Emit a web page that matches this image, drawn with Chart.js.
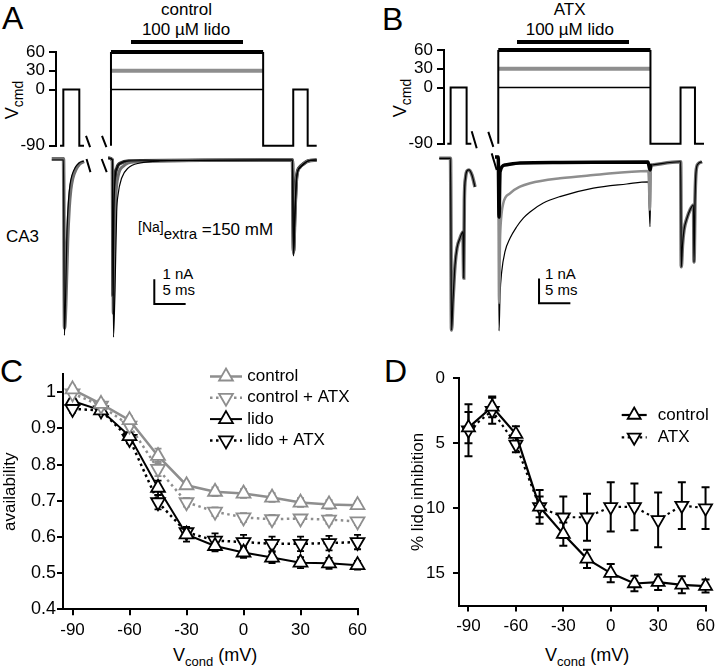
<!DOCTYPE html>
<html><head><meta charset="utf-8"><title>Lidocaine block and availability</title>
<script src="https://cdn.jsdelivr.net/npm/chart.js@4.4.1/dist/chart.umd.min.js"></script>
<style>
html,body{margin:0;padding:0;background:#fff;}
#fig{position:relative;width:720px;height:667px;overflow:hidden;background:#fff;font-family:"Liberation Sans",Arial,Helvetica,sans-serif;color:#000;}
#fig canvas{position:absolute;}
.t{position:absolute;white-space:nowrap;line-height:1;}
.c{transform:translateX(-50%);}
.bar{position:absolute;background:#000;}
.sub{font-size:13px;position:relative;top:5px;}
.rot{position:absolute;white-space:nowrap;line-height:1;font-size:18px;transform:translate(-50%,-50%) rotate(-90deg);}
.rot .sub{font-size:14px;}
</style></head><body>
<div id="fig">
  <div class="t" style="left:2px;top:2px;font-size:32px">A</div>
  <div class="t" style="left:382px;top:3px;font-size:32px">B</div>
  <div class="t" style="left:0px;top:355px;font-size:32px">C</div>
  <div class="t" style="left:384px;top:355px;font-size:32px">D</div>

  <div class="t c" style="left:186.5px;top:1px;font-size:17px">control</div>
  <div class="t c" style="left:186px;top:21px;font-size:17px">100 µM lido</div>
  <div class="bar" style="left:131px;top:40px;width:112px;height:4px"></div>
  <div class="t c" style="left:569.7px;top:1px;font-size:17px">ATX</div>
  <div class="t c" style="left:569.8px;top:21px;font-size:17px">100 µM lido</div>
  <div class="bar" style="left:517px;top:39.5px;width:111.5px;height:4px"></div>

  <div class="rot" style="left:12px;top:100px">V<span class="sub">cmd</span></div>
  <div class="rot" style="left:400px;top:98px">V<span class="sub">cmd</span></div>

  <div class="t" style="left:6px;top:228px;font-size:17px">CA3</div>
  <div class="t" style="left:138px;top:221px;font-size:17px"><span style="font-size:14px;position:relative;top:-3px">[Na]</span><span style="font-size:15px;position:relative;top:4px">extra</span> =150 mM</div>

  <div class="t" style="left:162.5px;top:266px;font-size:15px">1 nA</div>
  <div class="t" style="left:162.5px;top:281.5px;font-size:15px">5 ms</div>
  <div class="t" style="left:545px;top:266px;font-size:15px">1 nA</div>
  <div class="t" style="left:545px;top:281.5px;font-size:15px">5 ms</div>

  <div class="t" style="left:173px;top:645.7px;font-size:18px">V<span class="sub">cond</span> (mV)</div>
  <div class="t" style="left:545px;top:645.7px;font-size:18px">V<span class="sub">cond</span> (mV)</div>
</div>
<script>
// ======================= DATA =======================
// Panels C and D: conditioning voltage (mV)
const vCond = [-90, -75, -60, -45, -30, -15, 0, 15, 30, 45, 60];
const vCondTicks = [-90, -60, -30, 0, 30, 60];
const availTicks = [0.4, 0.5, 0.6, 0.7, 0.8, 0.9, 1.0];
const availTickLabels = ['0.4', '0.5', '0.6', '0.7', '0.8', '0.9', '1'];
const inhibTicks = [0, 5, 10, 15];
const vcmdTicks = [-90, 0, 30, 60];

// Panel C: availability
const availControl     = [1.008, 0.968, 0.923, 0.824, 0.743, 0.725, 0.720, 0.709, 0.695, 0.690, 0.688];
const availControlErr  = [0.010, 0.010, 0.010, 0.020, 0.010, 0.012, 0.012, 0.012, 0.012, 0.012, 0.010];
const availControlATX  = [0.997, 0.963, 0.908, 0.788, 0.696, 0.670, 0.654, 0.649, 0.651, 0.648, 0.643];
const availControlATXErr = [0.010, 0.010, 0.010, 0.020, 0.012, 0.012, 0.012, 0.012, 0.010, 0.012, 0.010];
const availLido        = [0.976, 0.950, 0.879, 0.736, 0.607, 0.575, 0.557, 0.543, 0.529, 0.527, 0.522];
const availLidoErr     = [0.010, 0.010, 0.010, 0.020, 0.020, 0.015, 0.015, 0.015, 0.015, 0.015, 0.012];
const availLidoATX     = [0.954, 0.950, 0.871, 0.696, 0.613, 0.590, 0.586, 0.581, 0.581, 0.583, 0.586];
const availLidoATXErr  = [0.010, 0.010, 0.012, 0.020, 0.015, 0.020, 0.020, 0.020, 0.020, 0.020, 0.020];

// Panel D: % lido inhibition
const inhibControl    = [3.8, 2.2, 4.3, 9.9, 12.0, 13.9, 15.0, 15.8, 15.7, 15.9, 16.0];
const inhibControlErr = [1.2, 0.8, 0.6, 0.8, 0.9, 0.7, 0.7, 0.6, 0.6, 0.65, 0.5];
const inhibATX        = [4.0, 2.5, 5.1, 9.9, 10.7, 10.7, 9.9, 9.9, 10.9, 9.8, 10.0];
const inhibATXErr     = [2.0, 1.0, 0.6, 1.3, 1.6, 1.8, 1.9, 1.8, 2.1, 1.8, 1.6];

// Panels A and B: command-voltage protocol (time in ms along the displayed sweep, voltage in mV)
const protoT = [0, 0.53, 0.53, 3.08, 3.08, 3.83, 5.5, 8.13, 8.13, 20, 32.4, 32.4, 37.2, 37.2, 39.5, 39.5, 40.94];
const protoV = [-90, -90, 0, 0, -90, -90, null, -90, 60, null, 60, -90, -90, 0, 0, -90, -90];
const condT = [8.13, 32.4];
const condLevels = [0, 30, 60];
// axis-break marks (ms, mV) and (ms, nA)
const breakProtoAT = [4.15, 4.8, 5.5, 6.7, 7.4];
const breakProtoAV = [-74, -92, null, -74, -92];
const breakTraceAT = [4.23, 4.86, 5.5, 6.65, 7.45];
const breakTraceAI = [0.04, -0.49, null, 0.04, -0.49];
const breakProtoBT = [3.89, 4.69, 5.5, 6.54, 7.34];
const breakProtoBV = [-70, -97, null, -71, -95];
const breakTraceBT = [7.08, 7.88];
const breakTraceBI = [0.24, -0.43];
// scale bars: 5 ms, 1 nA
const scaleBarAT = [15.04, 15.04, 20.04];
const scaleBarAI = [-4.83, -5.83, -5.83];
const scaleBarBT = [14.63, 14.63, 19.63];
const scaleBarBI = [-4.83, -5.83, -5.83];

// Panel A currents (ms, nA)
const tA_pre  = [-1.32, 0.56, 0.70, 0.88, 1.12, 1.36, 1.59, 1.91, 2.39, 3.03, 3.83];
const iA_pre  = [0.0, 0.0, -7.1, -5.67, -2.83, -1.62, -1.01, -0.61, -0.32, -0.12, -0.04];
const tA_pre2 = [-1.32, 0.56, 0.72, 0.92, 1.2, 1.45, 1.7, 2.0, 2.5, 3.1, 3.83];
const iA_pre2 = [0.05, 0.05, -6.8, -5.8, -3.3, -1.95, -1.2, -0.75, -0.4, -0.16, -0.06];
const tA_c0  = [7.7, 8.37, 8.53, 8.77, 9.04, 9.25, 9.84, 10.89, 12.76, 15.95, 32.4, 37.08, 37.24, 37.48, 37.75, 38.28, 38.76, 39.55, 40.94];
const iA_c0  = [0.08, 0.0, -7.17, -5.26, -2.1, -1.42, -0.73, -0.32, -0.12, -0.04, 0.0, 0.0, -3.89, -2.23, -0.73, -0.32, -0.2, -0.04, 0.0];
const tA_c30 = [7.7, 8.37, 8.49, 8.68, 8.9, 9.3, 10.1, 11.8, 32.4, 37.08, 37.24, 37.48, 37.75, 38.28, 38.76, 39.55, 40.94];
const iA_c30 = [0.08, 0.0, -6.2, -3.4, -1.5, -0.62, -0.25, -0.08, 0.0, 0.0, -3.8, -2.1, -0.7, -0.3, -0.18, -0.04, 0.0];
const tA_c60 = [7.7, 8.37, 8.45, 8.61, 8.77, 9.09, 9.73, 11.0, 32.4, 37.08, 37.24, 37.48, 37.75, 38.28, 38.76, 39.55, 40.94];
const iA_c60 = [0.08, 0.0, -5.5, -2.0, -0.81, -0.32, -0.12, -0.04, 0.0, 0.0, -3.7, -2.0, -0.65, -0.28, -0.17, -0.04, 0.0];

// Panel B currents (ms, nA)
const tB_pre = [-1.28, 0.51, 0.67, 0.91, 1.23, 1.55, 2.03, 2.5, 2.62, 2.72, 2.9, 3.14, 3.46, 3.94, 4.42];
const iB_pre = [0.04, 0.04, -6.91, -5.69, -4.28, -3.59, -3.19, -2.94, -4.81, -1.65, -0.76, -0.47, -0.43, -0.64, -1.12];
const tB_c0  = [7.61, 8.12, 8.25, 8.41, 8.68, 9.2, 10.0, 11.07, 12.12, 13.19, 15.31, 17.97, 23.29, 28.61, 32.06, 32.33, 32.49, 32.65];
const iB_c0  = [0.09, 0.09, -6.95, -5.49, -4.55, -3.74, -3.2, -2.73, -2.38, -2.13, -1.77, -1.51, -1.17, -1.0, -0.91, -2.73, -0.27, -0.23];
const tB_c30 = [7.61, 8.12, 8.25, 8.41, 8.56, 8.93, 10.0, 11.6, 13.19, 17.97, 23.29, 32.06, 32.33, 32.49, 32.65];
const iB_c30 = [0.09, 0.09, -5.82, -3.27, -2.46, -1.78, -1.38, -1.11, -0.97, -0.77, -0.64, -0.47, -2.05, -0.27, -0.23];
const tB_c60 = [7.61, 8.12, 8.25, 8.41, 9.2, 11.6, 17.97, 32.0, 32.33, 32.49, 32.65];
const iB_c60 = [0.09, 0.09, -2.34, -0.51, -0.23, -0.15, -0.13, -0.11, -0.43, -0.25, -0.23];
const tB_test = [32.65, 37.11, 37.22, 37.32, 37.51, 37.75, 38.23, 38.71, 39.27, 39.35, 39.51, 39.67, 39.99, 40.63];
const iB_test = [-0.23, -0.1, -0.1, -4.35, -3.47, -2.86, -2.38, -2.05, -1.85, -4.16, -1.65, -0.51, -0.19, -0.1];

// ======================= STYLE / LAYOUT =======================
const FONT = '"Liberation Sans", Arial, Helvetica, sans-serif';
Chart.defaults.font.family = FONT;
Chart.defaults.color = '#000';
Chart.defaults.animation = false;
const GRAY = '#8e8e8e';
const TGRAY = '#6f6f6f';
const PX_PER_MS = 6.27;
const PX_PER_NA = 24.7;
const fig = document.getElementById('fig');

function mkCanvas(left, top, w, h) {
  const c = document.createElement('canvas');
  c.width = w; c.height = h;
  c.style.left = left + 'px'; c.style.top = top + 'px';
  c.style.width = w + 'px'; c.style.height = h + 'px';
  fig.appendChild(c);
  return c;
}
function pts(xs, ys) { return xs.map((x, i) => ({ x: x, y: ys[i] })); }
function ln(xs, ys, color, width, extra) {
  return Object.assign({ data: pts(xs, ys), borderColor: color, borderWidth: width, pointRadius: 0,
    fill: false, clip: false, spanGaps: false, tension: 0 }, extra || {});
}
const smooth = { cubicInterpolationMode: 'monotone' };

// ---------- protocol charts (A, B) ----------
function protocolChart(left, top, width, height, t0px, axisPx, breakT, breakV) {
  const cv = mkCanvas(left, top, width, height);
  const chartLeft = left + axisPx;
  new Chart(cv, {
    type: 'line',
    data: { datasets: [
      ln(condT, [condLevels[2], condLevels[2]], '#000', 4),
      ln(protoT, protoV, '#000', 2),
      ln(breakT, breakV, '#000', 2),
      ln(condT, [condLevels[1], condLevels[1]], GRAY, 4),
      ln(condT, [condLevels[0], condLevels[0]], '#000', 1.5)
    ]},
    options: {
      responsive: false, animation: false, events: [],
      layout: { padding: { top: 15, bottom: 13, left: 0, right: 0 } },
      plugins: { legend: { display: false }, tooltip: { enabled: false } },
      scales: {
        x: { type: 'linear', display: false,
             min: (chartLeft - t0px) / PX_PER_MS, max: (left + width - t0px) / PX_PER_MS },
        y: { type: 'linear', min: -90, max: 60,
             afterFit: s => { s.width = axisPx; },
             afterBuildTicks: s => { s.ticks = vcmdTicks.map(v => ({ value: v })); },
             grid: { drawOnChartArea: false, drawTicks: true, tickLength: 7, color: '#000', lineWidth: 2 },
             border: { display: true, color: '#000', width: 2 },
             ticks: { padding: 4, font: { size: 17 }, color: '#000' } }
      }
    }
  });
}
protocolChart(0, 37, 330, 123, 60, 56, breakProtoAT, breakProtoAV);
protocolChart(388, 35, 330, 123, 447.3, 56, breakProtoBT, breakProtoBV);

// ---------- current trace charts (A, B) ----------
function traceChart(left, top, width, height, t0px, basePx, datasets) {
  const cv = mkCanvas(left, top, width, height);
  new Chart(cv, {
    type: 'line',
    data: { datasets: datasets },
    options: {
      responsive: false, animation: false, events: [],
      layout: { padding: 0 },
      plugins: { legend: { display: false }, tooltip: { enabled: false } },
      scales: {
        x: { type: 'linear', display: false, min: (left - t0px) / PX_PER_MS, max: (left + width - t0px) / PX_PER_MS },
        y: { type: 'linear', display: false, min: -(top + height - basePx) / PX_PER_NA, max: (basePx - top) / PX_PER_NA }
      }
    }
  });
}
traceChart(0, 148, 330, 200, 60, 160, [
  ln(scaleBarAT, scaleBarAI, '#000', 2),
  ln(breakTraceAT, breakTraceAI, '#000', 2),
  ln(tA_c0, iA_c0, '#000', 1.2, smooth),
  ln(tA_c60, iA_c60, '#000', 1.2, smooth),
  ln(tA_pre, iA_pre, '#000', 1.2, smooth),
  ln(tA_c30, iA_c30, TGRAY, 3, smooth),
  ln(tA_pre2, iA_pre2, TGRAY, 3.5, smooth),
  ln(tA_c60, iA_c60, '#333', 3.5, smooth)
]);
traceChart(388, 148, 330, 200, 447.3, 159.3, [
  ln(scaleBarBT, scaleBarBI, '#000', 2),
  ln(breakTraceBT, breakTraceBI, '#000', 2),
  ln(tB_c60, iB_c60, '#000', 3.5, smooth),
  ln(tB_c30, iB_c30, GRAY, 2.5, smooth),
  ln(tB_c0, iB_c0, '#000', 1.2, smooth),
  ln(tB_pre, iB_pre, '#000', 1.2, smooth),
  ln(tB_test, iB_test, '#000', 1.2, smooth),
  ln(tB_pre, iB_pre, TGRAY, 3.5, smooth),
  ln(tB_test, iB_test, TGRAY, 3.5, smooth)
]);

// ---------- plugins for C and D ----------
const errorBarPlugin = {
  id: 'errorBars',
  beforeDatasetsDraw(chart, args, opts) {
    const ctx = chart.ctx, xs = chart.scales.x, ys = chart.scales.y;
    chart.data.datasets.forEach(ds => {
      if (!ds.errors) return;
      ctx.save();
      ctx.strokeStyle = ds.borderColor;
      ctx.lineWidth = opts.lineWidth;
      ctx.setLineDash([]);
      ds.data.forEach((p, j) => {
        const e = ds.errors[j];
        const px = xs.getPixelForValue(p.x);
        const y1 = ys.getPixelForValue(p.y - e), y2 = ys.getPixelForValue(p.y + e);
        ctx.beginPath();
        ctx.moveTo(px, y1); ctx.lineTo(px, y2);
        ctx.moveTo(px - opts.cap, y1); ctx.lineTo(px + opts.cap, y1);
        ctx.moveTo(px - opts.cap, y2); ctx.lineTo(px + opts.cap, y2);
        ctx.stroke();
      });
      ctx.restore();
    });
  }
};
const lineLegendPlugin = {
  id: 'lineLegend',
  afterDraw(chart, args, o) {
    const ctx = chart.ctx;
    chart.data.datasets.forEach((ds, i) => {
      const y = o.y + i * o.rowH;
      ctx.save();
      ctx.strokeStyle = ds.borderColor;
      ctx.lineWidth = ds.borderWidth;
      ctx.setLineDash(ds.borderDash || []);
      ctx.beginPath(); ctx.moveTo(o.x, y); ctx.lineTo(o.x + o.len, y); ctx.stroke();
      ctx.setLineDash([]);
      ctx.fillStyle = ds.pointBackgroundColor;
      ctx.strokeStyle = ds.pointBorderColor;
      ctx.lineWidth = ds.pointBorderWidth;
      Chart.helpers.drawPoint(ctx, { pointStyle: ds.pointStyle, rotation: ds.pointRotation || 0,
        radius: ds.pointRadius, borderWidth: ds.pointBorderWidth }, o.x + o.len / 2, y);
      ctx.fillStyle = '#000';
      ctx.font = o.fontSize + 'px ' + FONT;
      ctx.textBaseline = 'middle';
      ctx.textAlign = 'left';
      ctx.fillText(ds.label, o.textX, y);
      ctx.restore();
    });
  }
};
function series(label, ys, errs, color, width, dashed, down, r) {
  return {
    label: label, data: pts(vCond, ys), errors: errs,
    borderColor: color, borderWidth: width, borderDash: dashed ? [2.5, 3.5] : [],
    pointStyle: 'triangle', pointRotation: down ? 180 : 0, pointRadius: r,
    pointBackgroundColor: '#fff', pointBorderColor: color, pointBorderWidth: 1.8,
    fill: false, clip: false, tension: 0
  };
}
function axisCommon() {
  return {
    grid: { drawOnChartArea: false, drawTicks: true, tickLength: 6, color: '#000', lineWidth: 2 },
    border: { display: true, color: '#000', width: 2 }
  };
}

// ---------- Panel C ----------
new Chart(mkCanvas(0, 360, 372, 307), {
  type: 'line',
  data: { datasets: [
    series('control', availControl, availControlErr, GRAY, 2.5, false, false, 8),
    series('control + ATX', availControlATX, availControlATXErr, GRAY, 2.5, true, true, 8),
    series('lido', availLido, availLidoErr, '#000', 2, false, false, 8),
    series('lido + ATX', availLidoATX, availLidoATXErr, '#000', 2.5, true, true, 8)
  ]},
  options: {
    responsive: false, animation: false, events: [],
    layout: { padding: { top: 14.2, bottom: 27.7, left: 0, right: 10.4 } },
    plugins: { legend: { display: false }, tooltip: { enabled: false },
      errorBars: { lineWidth: 1.8, cap: 3.5 },
      lineLegend: { x: 210, len: 32, textX: 247.3, y: 16.5, rowH: 21.3, fontSize: 17 } },
    scales: {
      x: Object.assign(axisCommon(), { type: 'linear', min: -95, max: 60,
        afterFit: s => { s.height = 30; },
        afterBuildTicks: s => { s.ticks = vCondTicks.map(v => ({ value: v })); },
        ticks: { padding: 5, font: { size: 17 }, color: '#000', maxRotation: 0, autoSkip: false } }),
      y: Object.assign(axisCommon(), { type: 'linear', min: 0.4, max: 1.05,
        afterFit: s => { s.width = 63; },
        afterBuildTicks: s => { s.ticks = availTicks.map(v => ({ value: v })); },
        ticks: { padding: 1, font: { size: 18 }, color: '#000', callback: (v, i) => availTickLabels[i] },
        title: { display: true, text: 'availability', font: { size: 17 }, color: '#000', padding: { top: 0, bottom: 0 } } })
    }
  },
  plugins: [errorBarPlugin, lineLegendPlugin]
});

// ---------- Panel D ----------
new Chart(mkCanvas(380, 360, 340, 307), {
  type: 'line',
  data: { datasets: [
    series('control', inhibControl, inhibControlErr, '#000', 2.2, false, false, 7.5),
    series('ATX', inhibATX, inhibATXErr, '#000', 2.2, true, true, 7.5)
  ]},
  options: {
    responsive: false, animation: false, events: [],
    layout: { padding: { top: 12.3, bottom: 31.4, left: 0, right: 10 } },
    plugins: { legend: { display: false }, tooltip: { enabled: false },
      errorBars: { lineWidth: 2, cap: 4 },
      lineLegend: { x: 241.7, len: 25, textX: 277.7, y: 55, rowH: 22.3, fontSize: 17 } },
    scales: {
      x: Object.assign(axisCommon(), { type: 'linear', min: -96, max: 60,
        afterFit: s => { s.height = 30; },
        afterBuildTicks: s => { s.ticks = vCondTicks.map(v => ({ value: v })); },
        ticks: { padding: 5, font: { size: 17 }, color: '#000', maxRotation: 0, autoSkip: false } }),
      y: Object.assign(axisCommon(), { type: 'linear', min: 0, max: 17.5, reverse: true,
        afterFit: s => { s.width = 79; },
        afterBuildTicks: s => { s.ticks = inhibTicks.map(v => ({ value: v })); },
        ticks: { padding: 8, font: { size: 17 }, color: '#000' },
        title: { display: true, text: '% lido inhibition', font: { size: 17 }, color: '#000', padding: { top: 27.8, bottom: 0 } } })
    }
  },
  plugins: [errorBarPlugin, lineLegendPlugin]
});
</script>
</body></html>
